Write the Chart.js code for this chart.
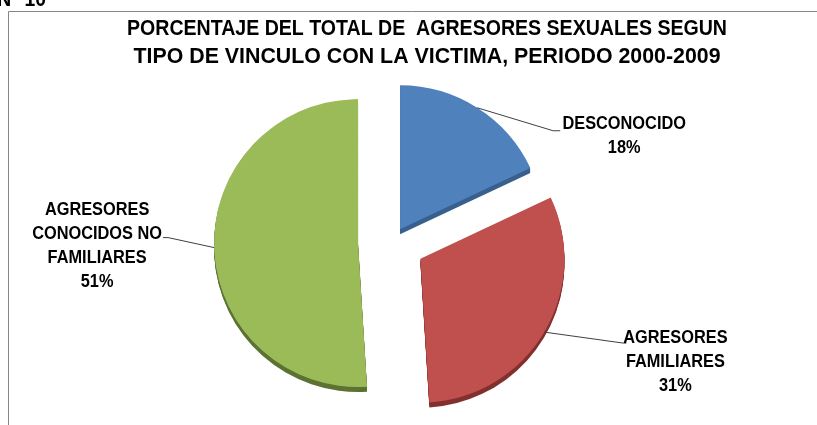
<!DOCTYPE html>
<html>
<head>
<meta charset="utf-8">
<script src="https://cdn.jsdelivr.net/npm/chart.js@4.4.0/dist/chart.umd.min.js"></script>
<style>
  html, body { margin: 0; padding: 0; background: #fff; overflow: hidden; }
</style>
</head>
<body>
<canvas id="chart" width="817" height="425"></canvas>
<script>
// data
var categories = [['DESCONOCIDO'], ['AGRESORES', 'FAMILIARES'], ['AGRESORES', 'CONOCIDOS NO', 'FAMILIARES']];
var percentages = [18, 31, 51];
var titleLines = ['PORCENTAJE DEL TOTAL DE  AGRESORES SEXUALES SEGUN', 'TIPO DE VINCULO CON LA VICTIMA, PERIODO 2000-2009'];
var figureName = 'GRAFICA N° 10';

// style
var topColors = ['#4f81bd', '#c0504d', '#9bbb59'];
var sideColors = ['#395f8c', '#82302e', '#5b7232'];
var pull = [15, 33, 34];   // how far each slice is pulled out
var depth = 5;             // thickness of the 3d rim
// leader elbow, tail and text centre, relative to the slice's mid point on the rim
var leaders = [
    {elbow: [76, 23], tail: 7, text: [147, 16]},
    {elbow: [79, 11], tail: 3, text: [131, 6]},
    {elbow: [-46, -10], tail: -5, text: [-117, -38]}
];
var FONT = "'Liberation Sans', Arial, sans-serif";
var titleWidths = [600, 587];  // the original used a condensed face
var labelSqueeze = 0.86;

// text drawn a bit narrower, like Calibri
function squeezedText(ctx, text, x, y, sx) {
    ctx.save();
    ctx.translate(x, y);
    ctx.scale(sx, 1);
    ctx.fillText(text, 0, 0);
    ctx.restore();
}

function slicePath(ctx, arc, dy) {
    ctx.beginPath();
    ctx.moveTo(arc.x, arc.y + dy);
    ctx.arc(arc.x, arc.y + dy, arc.outerRadius, arc.startAngle, arc.endAngle);
    ctx.closePath();
}

var explode = {
    id: 'explode',
    beforeDatasetsDraw: function(chart) {
        var ctx = chart.ctx;
        var arcs = chart.getDatasetMeta(0).data;
        arcs.forEach(function(arc, i) {
            var mid = (arc.startAngle + arc.endAngle) / 2;
            arc.x += Math.cos(mid) * pull[i];
            arc.y += Math.sin(mid) * pull[i];
        });
        // rim under each slice
        ctx.save();
        arcs.forEach(function(arc, i) {
            ctx.fillStyle = sideColors[i];
            for (var d = 1; d <= depth; d++) {
                slicePath(ctx, arc, d);
                ctx.fill();
            }
        });
        ctx.restore();
    },
    afterDatasetsDraw: function(chart) {
        var ctx = chart.ctx;
        var arcs = chart.getDatasetMeta(0).data;
        ctx.save();
        arcs.forEach(function(arc, i) {
            var mid = (arc.startAngle + arc.endAngle) / 2;
            var rx = arc.x + Math.cos(mid) * arc.outerRadius;
            var ry = arc.y + Math.sin(mid) * arc.outerRadius;
            var l = leaders[i];
            ctx.strokeStyle = '#404040';
            ctx.lineWidth = 1;
            ctx.beginPath();
            ctx.moveTo(rx, ry);
            ctx.lineTo(rx + l.elbow[0], ry + l.elbow[1]);
            ctx.lineTo(rx + l.elbow[0] + l.tail, ry + l.elbow[1]);
            ctx.stroke();

            var lines = categories[i].concat([percentages[i] + '%']);
            ctx.fillStyle = '#000';
            ctx.font = 'bold 19px ' + FONT;
            ctx.textAlign = 'center';
            ctx.textBaseline = 'middle';
            lines.forEach(function(t, k) {
                squeezedText(ctx, t, rx + l.text[0], ry + l.text[1] + k * 24, labelSqueeze);
            });
        });
        ctx.restore();
        // put the slices back where the controller left them
        arcs.forEach(function(arc, i) {
            var mid = (arc.startAngle + arc.endAngle) / 2;
            arc.x -= Math.cos(mid) * pull[i];
            arc.y -= Math.sin(mid) * pull[i];
        });
    }
};

var frame = {
    id: 'frame',
    beforeDraw: function(chart) {
        var ctx = chart.ctx;
        ctx.save();
        ctx.fillStyle = '#fff';
        ctx.fillRect(0, 0, chart.width, chart.height);
        ctx.strokeStyle = '#868686';
        ctx.lineWidth = 1;
        ctx.beginPath();
        ctx.moveTo(8.5, chart.height);
        ctx.lineTo(8.5, 11.5);
        ctx.lineTo(chart.width, 11.5);
        ctx.stroke();

        ctx.fillStyle = '#000';
        ctx.font = 'bold 22px ' + FONT;
        ctx.textAlign = 'right';
        ctx.textBaseline = 'alphabetic';
        squeezedText(ctx, figureName, 46, 6, 0.88);

        ctx.textAlign = 'center';
        ctx.textBaseline = 'middle';
        titleLines.forEach(function(t, k) {
            var sx = titleWidths[k] / ctx.measureText(t).width;
            squeezedText(ctx, t, 427, 29 + k * 28, sx);
        });
        ctx.restore();
    }
};

var config = {
    type: 'pie',
    data: {
        labels: categories,
        datasets: [{
            data: percentages,
            backgroundColor: topColors,
            borderWidth: 0
        }]
    },
    options: {
        responsive: false,
        animation: false,
        events: [],
        radius: 144,
        layout: {
            padding: {left: 60, right: 93, top: 80, bottom: 21}
        },
        plugins: {
            legend: {display: false},
            title: {display: false},
            tooltip: {enabled: false}
        }
    },
    plugins: [frame, explode]
};

window.onload = function() {
    var ctx = document.getElementById('chart').getContext('2d');
    window.myPie = new Chart(ctx, config);
};
</script>
</body>
</html>
